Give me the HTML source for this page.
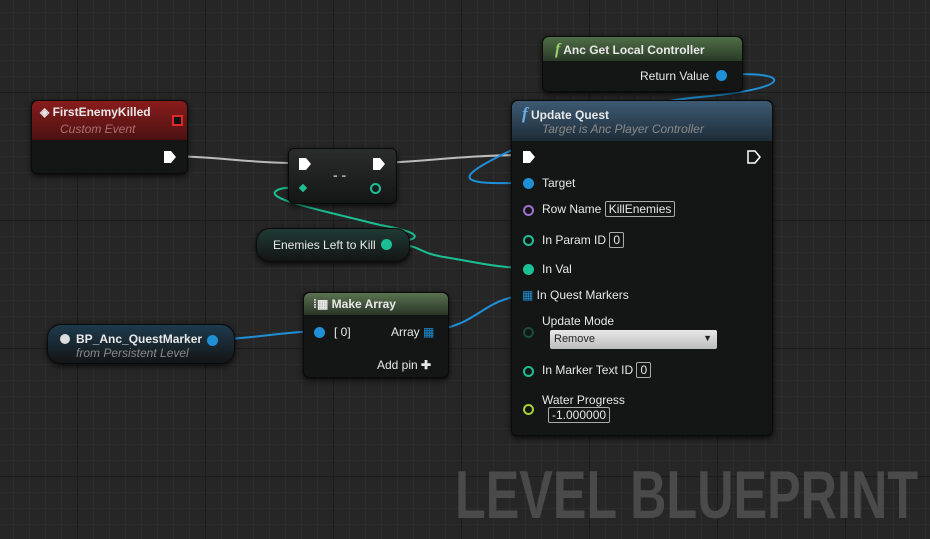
<!DOCTYPE html>
<html><head><meta charset="utf-8"><style>
html,body{margin:0;padding:0}
body{width:930px;height:539px;overflow:hidden;position:relative;background-color:#262626;
background-image:linear-gradient(#1c1c1c 1px,transparent 1px),linear-gradient(90deg,#1c1c1c 1px,transparent 1px),linear-gradient(#2d2d2d 1px,transparent 1px),linear-gradient(90deg,#2d2d2d 1px,transparent 1px);
background-size:128px 128px,128px 128px,16px 16px,16px 16px;background-position:77px 92px,77px 92px,13px 12px,13px 12px;
font-family:"Liberation Sans",sans-serif;font-size:12px;color:#e8e8e8}
.n{position:absolute;background:#141515;border-radius:6px;box-shadow:0 2px 6px rgba(0,0,0,.8);border:1px solid #0a0a0a}
.h{position:absolute;left:0;right:0;top:0;border-radius:6px 6px 0 0}
.t{position:absolute;white-space:nowrap}
.b{font-weight:bold}
.i{font-style:italic;color:#8a8a8a}
.box{border:1px solid #aaa;padding:0 3px;border-radius:2px;font-size:12px}
svg{position:absolute;left:0;top:0}
</style></head><body>
<svg width="930" height="539"><text x="455" y="518" font-family="Liberation Sans, sans-serif" font-weight="bold" font-size="68" fill="#4a4a4a" textLength="463" lengthAdjust="spacingAndGlyphs">LEVEL BLUEPRINT</text></svg>

<svg width="930" height="539" style="z-index:0">
<g fill="none" stroke-width="2">
<path d="M176 156 C230 158 240 162 292 163" stroke="#bbb"/>
<path d="M384 163 C440 160 460 156 518 155" stroke="#bbb"/>
<path d="M723 75 C790 70 800 88 700 97 C600 106 480 160 470 175 C465 185 500 183 528 183" stroke="#1f8fd6"/>
<path d="M386 243 C430 240 420 232 380 225 C320 210 270 200 275 192 C280 186 295 188 302 188" stroke="#1cbf94"/>
<path d="M386 243 C430 246 410 252 450 258 C480 263 500 268 528 268" stroke="#1cbf94"/>
<path d="M212 340 C260 338 280 332 320 331" stroke="#1f8fd6"/>
<path d="M430 331 C480 325 480 300 525 295" stroke="#1f8fd6"/>
</g></svg>

<div class="n" style="left:31px;top:100px;width:155px;height:72px">
<div class="h" style="height:39px;background:linear-gradient(180deg,#8a1c1c,#4a1212)"></div>
<div class="t b" style="left:8px;top:4px;font-size:12px">◈ FirstEnemyKilled</div>
<div class="t i" style="left:28px;top:21px;color:#b07070">Custom Event</div>
<div style="position:absolute;left:140px;top:14px;width:7px;height:7px;border:2px solid #e02828;background:#111"></div>
<svg width="14" height="14" style="left:131px;top:49px"><path d="M1 1h7l5 6-5 6H1z" fill="#fff"/></svg>
</div>

<div class="n" style="left:288px;top:148px;width:107px;height:54px;background:linear-gradient(#2b2d2d,#141515)">
<svg width="14" height="14" style="left:9px;top:8px"><path d="M1 1h7l5 6-5 6H1z" fill="#fff"/></svg>
<svg width="14" height="14" style="left:83px;top:8px"><path d="M1 1h7l5 6-5 6H1z" fill="#fff"/></svg>
<div class="t b" style="left:44px;top:18px;color:#aaa;font-size:14px">- -</div>
<div style="position:absolute;left:11px;top:36px;width:6px;height:6px;background:#1cbf94;transform:rotate(45deg)"></div>
<div style="position:absolute;left:81px;top:34px;width:7px;height:7px;border:2px solid #1cbf94;border-radius:50%"></div>
</div>

<div class="n" style="left:256px;top:228px;width:152px;height:32px;border-radius:14px;background:linear-gradient(#1f3a34,#141515)">
<div class="t" style="left:16px;top:9px">Enemies Left to Kill</div>
<div style="position:absolute;left:124px;top:10px;width:11px;height:11px;background:#1cbf94;border-radius:50%"></div>
</div>

<div class="n" style="left:47px;top:324px;width:186px;height:38px;border-radius:14px;background:linear-gradient(#1d3a4d,#141515)">
<div style="position:absolute;left:12px;top:9px;width:10px;height:10px;background:#ddd;border-radius:50%"></div>
<div class="t b" style="left:28px;top:7px">BP_Anc_QuestMarker</div>
<div class="t i" style="left:28px;top:21px">from Persistent Level</div>
<div style="position:absolute;left:159px;top:10px;width:11px;height:11px;background:#1f8fd6;border-radius:50%"></div>
</div>

<div class="n" style="left:303px;top:292px;width:144px;height:84px">
<div class="h" style="height:22px;background:linear-gradient(180deg,#5a7350,#2a3428)"></div>
<div class="t b" style="left:9px;top:4px">⁞▦ Make Array</div>
<div style="position:absolute;left:10px;top:34px;width:11px;height:11px;background:#1f8fd6;border-radius:50%"></div>
<div class="t" style="left:30px;top:32px">[ 0]</div>
<div class="t" style="left:87px;top:32px">Array <span style="color:#1f8fd6">▦</span></div>
<div class="t" style="left:73px;top:65px">Add pin <b>✚</b></div>
</div>

<div class="n" style="left:542px;top:36px;width:199px;height:54px">
<div class="h" style="height:24px;background:linear-gradient(180deg,#4f6e46,#2a3a28)"></div>
<div class="t b" style="left:12px;top:4px"><i style="color:#9ad06a;font-family:'Liberation Serif',serif;font-size:16px">f</i> Anc Get Local Controller</div>
<div class="t" style="left:97px;top:32px">Return Value</div>
<div style="position:absolute;left:173px;top:33px;width:11px;height:11px;background:#1f8fd6;border-radius:50%"></div>
</div>

<div class="n" style="left:511px;top:100px;width:260px;height:334px">
<div class="h" style="height:40px;background:linear-gradient(180deg,#3c5a72,#1e2c38)"></div>
<div class="t b" style="left:10px;top:3px;font-size:12px"><i style="color:#6ab0e0;font-family:'Liberation Serif',serif;font-size:17px">f</i> Update Quest</div>
<div class="t i" style="left:30px;top:21px">Target is Anc Player Controller</div>
<svg width="14" height="14" style="left:10px;top:49px"><path d="M1 1h7l5 6-5 6H1z" fill="#fff"/></svg>
<svg width="14" height="14" style="left:235px;top:49px"><path d="M1 1h7l5 6-5 6H1z" fill="none" stroke="#fff" stroke-width="1.5"/></svg>
<div style="position:absolute;left:11px;top:77px;width:11px;height:11px;background:#1f8fd6;border-radius:50%"></div>
<div class="t" style="left:30px;top:75px">Target</div>
<div style="position:absolute;left:11px;top:104px;width:7px;height:7px;border:2px solid #a070d0;border-radius:50%"></div>
<div class="t" style="left:30px;top:101px">Row Name <span class="box">KillEnemies</span></div>
<div style="position:absolute;left:11px;top:134px;width:7px;height:7px;border:2px solid #1cbf94;border-radius:50%"></div>
<div class="t" style="left:30px;top:132px">In Param ID <span class="box">0</span></div>
<div style="position:absolute;left:11px;top:163px;width:11px;height:11px;background:#1cbf94;border-radius:50%"></div>
<div class="t" style="left:30px;top:161px">In Val</div>
<div class="t" style="left:10px;top:187px"><span style="color:#1f8fd6">▦</span> In Quest Markers</div>
<div style="position:absolute;left:11px;top:226px;width:7px;height:7px;border:2px solid #1a4a40;border-radius:50%"></div>
<div class="t" style="left:30px;top:213px">Update Mode</div>
<div style="position:absolute;left:38px;top:229px;width:167px;height:19px;background:linear-gradient(#e8e8e8,#bcbcbc);border-radius:2px;color:#222;font-size:11px"><span style="position:absolute;left:4px;top:3px">Remove</span><span style="position:absolute;right:5px;top:3px;font-size:9px">▼</span></div>
<div style="position:absolute;left:11px;top:265px;width:7px;height:7px;border:2px solid #1cbf94;border-radius:50%"></div>
<div class="t" style="left:30px;top:262px">In Marker Text ID <span class="box">0</span></div>
<div style="position:absolute;left:11px;top:303px;width:7px;height:7px;border:2px solid #a8d030;border-radius:50%"></div>
<div class="t" style="left:30px;top:292px">Water Progress</div>
<div class="t" style="left:36px;top:307px"><span class="box">-1.000000</span></div>
</div>
</body></html>
